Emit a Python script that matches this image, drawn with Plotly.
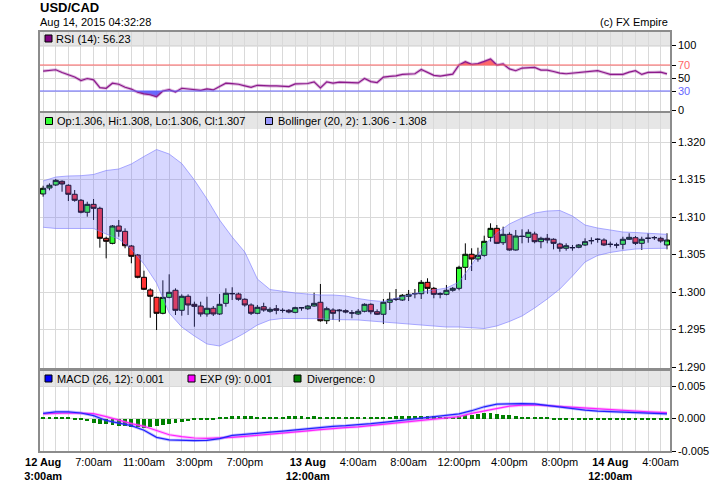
import numpy as np
import pandas as pd
import plotly.graph_objects as go

# ------------------------------------------------------------------ data
start = "2015-08-12 03:00"
n_candles = 100

opens = [1.31307, 1.31387, 1.31427, 1.31476, 1.31423, 1.31303, 1.31223, 1.31063, 1.31169, 1.31116,
         1.30716, 1.30649, 1.30880, 1.30809, 1.30613, 1.30493, 1.30196, 1.30027, 1.29929, 1.29716,
         1.29929, 1.30023, 1.29756, 1.29943, 1.29836, 1.29813, 1.29707, 1.29783, 1.29707, 1.29849,
         1.29980, 1.29973, 1.29903, 1.29827, 1.29716, 1.29804, 1.29743, 1.29777, 1.29756, 1.29756,
         1.29729, 1.29791, 1.29777, 1.29813, 1.29863, 1.29617, 1.29760, 1.29760, 1.29751, 1.29722,
         1.29707, 1.29743, 1.29836, 1.29737, 1.29703, 1.29863, 1.29903, 1.29893, 1.29943, 1.29976,
         1.29977, 1.30129, 1.30049, 1.29969, 1.29969, 1.30023, 1.30049, 1.30329, 1.30503, 1.30440,
         1.30489, 1.30729, 1.30849, 1.30657, 1.30769, 1.30560, 1.30745, 1.30729, 1.30773, 1.30671,
         1.30716, 1.30703, 1.30640, 1.30583, 1.30590, 1.30596, 1.30627, 1.30683, 1.30701, 1.30693,
         1.30637, 1.30627, 1.30636, 1.30703, 1.30724, 1.30649, 1.30716, 1.30724, 1.30716, 1.30627]

highs = [1.31417, 1.31449, 1.31507, 1.31489, 1.31436, 1.31360, 1.31240, 1.31204, 1.31240, 1.31137,
         1.30737, 1.30893, 1.30960, 1.30849, 1.30627, 1.30507, 1.30284, 1.30049, 1.29937, 1.30156,
         1.30236, 1.30049, 1.29969, 1.29969, 1.29871, 1.29871, 1.29937, 1.29813, 1.29973, 1.30049,
         1.30063, 1.29991, 1.29916, 1.29849, 1.29827, 1.29857, 1.29796, 1.29827, 1.29783, 1.29773,
         1.29804, 1.29796, 1.29827, 1.29991, 1.30107, 1.29804, 1.29783, 1.29773, 1.29769, 1.29760,
         1.29773, 1.29849, 1.29849, 1.29769, 1.29907, 1.29996, 1.30040, 1.29973, 1.30027, 1.30040,
         1.30160, 1.30183, 1.30067, 1.29996, 1.30093, 1.30067, 1.30350, 1.30649, 1.30583, 1.30591,
         1.30751, 1.30916, 1.30893, 1.30871, 1.30796, 1.30827, 1.30836, 1.30836, 1.30804, 1.30737,
         1.30773, 1.30716, 1.30657, 1.30649, 1.30627, 1.30640, 1.30716, 1.30729, 1.30716, 1.30716,
         1.30671, 1.30657, 1.30737, 1.30783, 1.30747, 1.30737, 1.30783, 1.30747, 1.30737, 1.30783]

lows = [1.31271, 1.31356, 1.31413, 1.31337, 1.31213, 1.31204, 1.31049, 1.31004, 1.30960, 1.30591,
        1.30449, 1.30636, 1.30737, 1.30583, 1.30383, 1.30183, 1.30027, 1.29657, 1.29493, 1.29703,
        1.29916, 1.29693, 1.29684, 1.29693, 1.29537, 1.29671, 1.29671, 1.29680, 1.29693, 1.29804,
        1.29893, 1.29884, 1.29804, 1.29693, 1.29703, 1.29737, 1.29724, 1.29703, 1.29724, 1.29716,
        1.29716, 1.29751, 1.29760, 1.29804, 1.29604, 1.29573, 1.29627, 1.29604, 1.29716, 1.29650,
        1.29693, 1.29729, 1.29703, 1.29693, 1.29573, 1.29760, 1.29880, 1.29880, 1.29880, 1.29916,
        1.29907, 1.29977, 1.29916, 1.29916, 1.29956, 1.30004, 1.30023, 1.30160, 1.30280, 1.30404,
        1.30471, 1.30671, 1.30640, 1.30627, 1.30551, 1.30551, 1.30649, 1.30657, 1.30649, 1.30583,
        1.30649, 1.30569, 1.30537, 1.30551, 1.30551, 1.30583, 1.30613, 1.30636, 1.30657, 1.30613,
        1.30596, 1.30583, 1.30569, 1.30693, 1.30627, 1.30560, 1.30657, 1.30693, 1.30657, 1.30569]

closes = [1.31383, 1.31423, 1.31489, 1.31440, 1.31303, 1.31223, 1.31063, 1.31169, 1.31116, 1.30716,
          1.30676, 1.30880, 1.30809, 1.30617, 1.30476, 1.30196, 1.30036, 1.29943, 1.29716, 1.29929,
          1.29996, 1.29756, 1.29943, 1.29827, 1.29809, 1.29707, 1.29783, 1.29707, 1.29836, 1.29983,
          1.29977, 1.29903, 1.29827, 1.29716, 1.29796, 1.29760, 1.29769, 1.29756, 1.29754, 1.29733,
          1.29791, 1.29789, 1.29813, 1.29849, 1.29617, 1.29777, 1.29716, 1.29751, 1.29733, 1.29720,
          1.29743, 1.29836, 1.29737, 1.29703, 1.29863, 1.29903, 1.29905, 1.29956, 1.29969, 1.29978,
          1.30129, 1.30049, 1.29969, 1.29977, 1.30023, 1.30049, 1.30329, 1.30503, 1.30440, 1.30489,
          1.30676, 1.30849, 1.30649, 1.30769, 1.30560, 1.30747, 1.30740, 1.30796, 1.30671, 1.30716,
          1.30693, 1.30649, 1.30583, 1.30617, 1.30592, 1.30627, 1.30671, 1.30685, 1.30703, 1.30627,
          1.30635, 1.30626, 1.30703, 1.30729, 1.30649, 1.30703, 1.30717, 1.30725, 1.30680, 1.30693]

# Bollinger (20, 2) bands, read hourly (every 2nd candle) plus the last candle
bb_upper = [1.31480, 1.31533, 1.31547, 1.31551, 1.31567, 1.31620, 1.31640, 1.31707, 1.31807, 1.31900,
            1.31840, 1.31713, 1.31493, 1.31240, 1.30960, 1.30733, 1.30533, 1.30173, 1.30033, 1.30007,
            1.29987, 1.29973, 1.29960, 1.29960, 1.29947, 1.29913, 1.29887, 1.29873, 1.29920, 1.29960,
            1.30000, 1.30027, 1.30053, 1.30133, 1.30360, 1.30627, 1.30787, 1.30907, 1.30987, 1.31053,
            1.31080, 1.31087, 1.31013, 1.30893, 1.30853, 1.30827, 1.30800, 1.30793, 1.30787, 1.30773,
            1.30769]
bb_lower = [1.30863, 1.30847, 1.30847, 1.30847, 1.30847, 1.30773, 1.30707, 1.30573, 1.30373, 1.30120,
            1.29720, 1.29533, 1.29413, 1.29307, 1.29280, 1.29360, 1.29453, 1.29560, 1.29627, 1.29647,
            1.29647, 1.29647, 1.29644, 1.29633, 1.29630, 1.29627, 1.29613, 1.29600, 1.29587, 1.29580,
            1.29560, 1.29547, 1.29533, 1.29533, 1.29527, 1.29513, 1.29547, 1.29607, 1.29680, 1.29787,
            1.29907, 1.30040, 1.30213, 1.30400, 1.30487, 1.30527, 1.30553, 1.30573, 1.30580, 1.30583,
            1.30583]

rsi = [60.6, 61.8, 62.7, 58.5, 54.4, 51.5, 46.0, 49.2, 47.1, 35.2,
       34.2, 42.0, 40.4, 35.8, 33.0, 28.0, 25.5, 24.2, 21.2, 30.0,
       32.1, 28.5, 34.2, 33.3, 32.8, 31.0, 33.1, 31.6, 37.0, 42.0,
       41.2, 40.4, 38.0, 35.7, 38.8, 37.8, 37.8, 37.8, 37.8, 36.8,
       40.9, 40.9, 41.5, 44.0, 34.7, 44.0, 42.0, 43.5, 43.0, 42.0,
       42.5, 49.2, 44.5, 43.0, 51.3, 52.5, 53.4, 55.5, 56.0, 56.5,
       63.2, 58.6, 54.0, 52.9, 54.4, 56.0, 70.0, 75.2, 71.0, 72.1,
       75.5, 79.4, 70.0, 71.6, 64.0, 61.2, 65.3, 65.8, 66.4, 62.2,
       62.2, 60.0, 57.5, 56.5, 57.5, 58.6, 59.5, 60.5, 61.2, 58.5,
       55.5, 55.5, 55.5, 59.0, 61.2, 55.5, 58.6, 58.8, 59.1, 56.23]

# MACD (26, 12) and EXP (9), read hourly plus the last candle
macd = [0.00080, 0.00102, 0.00103, 0.00085, 0.00045, -0.00030, -0.00070, -0.00110, -0.00180, -0.00290,
        -0.00330, -0.00340, -0.00340, -0.00335, -0.00310, -0.00260, -0.00240, -0.00228, -0.00210, -0.00195,
        -0.00175, -0.00150, -0.00132, -0.00120, -0.00110, -0.00100, -0.00080, -0.00060, -0.00040, -0.00020,
        0.00005, 0.00028, 0.00045, 0.00070, 0.00120, 0.00180, 0.00220, 0.00230, 0.00230, 0.00225,
        0.00200, 0.00170, 0.00145, 0.00130, 0.00115, 0.00105, 0.00100, 0.00092, 0.00085, 0.00075,
        0.00070]
exp9 = [0.00070, 0.00078, 0.00085, 0.00082, 0.00074, 0.00030, -0.00030, -0.00080, -0.00120, -0.00190,
        -0.00250, -0.00280, -0.00300, -0.00305, -0.00302, -0.00290, -0.00275, -0.00260, -0.00245, -0.00230,
        -0.00210, -0.00190, -0.00170, -0.00150, -0.00140, -0.00128, -0.00110, -0.00095, -0.00075, -0.00050,
        -0.00030, -0.00010, 0.00010, 0.00030, 0.00080, 0.00120, 0.00160, 0.00190, 0.00205, 0.00210,
        0.00198, 0.00185, 0.00170, 0.00158, 0.00145, 0.00133, 0.00122, 0.00110, 0.00102, 0.00093,
        0.00090]

divergence = [0.0003, 0.0003, 0.0003, 0.0002, 0.0002, -0.0002, -0.0003, -0.0004, -0.0007, -0.0009,
              -0.0009, -0.0010, -0.0011, -0.0012, -0.0013, -0.0013, -0.0014, -0.0013, -0.0012, -0.0010,
              -0.0008, -0.0007, -0.0005, -0.0004, -0.0003, -0.0003, -0.0002, -0.0002, 0.0002, 0.0003,
              0.0004, 0.0004, 0.0004, 0.0004, 0.0003, 0.0003, 0.0003, 0.0003, 0.0003, 0.0004,
              0.0004, 0.0004, 0.0003, 0.0004, 0.0003, 0.0003, 0.0003, 0.0003, 0.0003, 0.0003,
              0.0003, 0.0003, 0.0003, 0.0003, 0.0003, 0.0003, 0.0004, 0.0004, 0.0004, 0.0004,
              0.0004, 0.0004, 0.0004, 0.0003, 0.0003, 0.0003, 0.0004, 0.0005, 0.0006, 0.0007,
              0.0008, 0.0008, 0.0007, 0.0006, 0.0006, 0.0004, 0.0003, 0.0003, 0.0002, 0.0002,
              0.0002, -0.0002, -0.0003, -0.0003, -0.0003, -0.0003, -0.0003, -0.0003, -0.0003, -0.0003,
              -0.0003, -0.0003, -0.0002, -0.0002, -0.0002, -0.0002, -0.0002, -0.0002, -0.0002, -0.0002]

tick_times = ["2015-08-12 03:00", "2015-08-12 07:00", "2015-08-12 11:00", "2015-08-12 15:00",
              "2015-08-12 19:00", "2015-08-13 00:00", "2015-08-13 04:00", "2015-08-13 08:00",
              "2015-08-13 12:00", "2015-08-13 16:00", "2015-08-13 20:00", "2015-08-14 00:00",
              "2015-08-14 04:00"]
tick_text = ["<b>12 Aug</b><br><b>3:00am</b>", "7:00am", "11:00am", "3:00pm", "7:00pm",
             "<b>13 Aug</b><br><b>12:00am</b>", "4:00am", "8:00am", "12:00pm", "4:00pm", "8:00pm",
             "<b>14 Aug</b><br><b>12:00am</b>", "4:00am"]

rsi_ticks = [0, 30, 50, 70, 100]
price_ticks = [1.290, 1.295, 1.300, 1.305, 1.310, 1.315, 1.320]
macd_ticks = [-0.005, 0.0, 0.005]
macd_tick_text = ["-0.005", "0.000", "0.005"]

# ------------------------------------------------------------------ derived
step = pd.Timedelta(minutes=30)
times = pd.date_range(start, periods=n_candles, freq="30min")
hourly = list(times[::2]) + [times[-1]]

W, H = 710, 487
ML, MR, MT, MB = 40, 40, 32, 36
PW, PH = W - ML - MR, H - MT - MB


def PX(x):
    return (x - ML) / PW


def PY(y):
    return (H - MB - y) / PH


FONT = "Liberation Sans, Arial, sans-serif"
GRID = "#d9d9d9"
BORDER = "#8c8c8c"
RED_L = "#ff6666"
BLUE_L = "#6666ff"

fig = go.Figure()

# ---- RSI panel (x / y)
rsi_arr = np.array(rsi, dtype=float)


def beyond(level, above):
    xs, ys = [], []
    for i in range(len(rsi_arr)):
        xs.append(float(i))
        ys.append(rsi_arr[i])
        if i < len(rsi_arr) - 1:
            a, b = rsi_arr[i] - level, rsi_arr[i + 1] - level
            if a * b < 0:
                f = a / (a - b)
                xs.append(i + f)
                ys.append(level)
    ys = np.array(ys)
    ys = np.maximum(ys, level) if above else np.minimum(ys, level)
    xt = [times[0] + step * x for x in xs]
    return xt, ys


for level, above, col in [(30, False, "rgba(80,80,255,0.85)"), (70, True, "rgba(255,80,80,0.85)")]:
    fig.add_trace(go.Scatter(x=[times[0], times[-1]], y=[level, level], mode="lines",
                             line=dict(width=0), xaxis="x", yaxis="y", hoverinfo="skip"))
    xt, yc = beyond(level, above)
    fig.add_trace(go.Scatter(x=xt, y=yc, mode="lines", line=dict(width=0), fill="tonexty",
                             fillcolor=col, xaxis="x", yaxis="y", hoverinfo="skip"))

fig.add_trace(go.Scatter(x=times, y=rsi, mode="lines", line=dict(color="rgba(170,70,170,0.4)", width=3),
                         xaxis="x", yaxis="y", hoverinfo="skip"))
fig.add_trace(go.Scatter(x=times, y=rsi, mode="lines", line=dict(color="#8b1a8b", width=1.2),
                         xaxis="x", yaxis="y", hoverinfo="skip"))

# ---- Main panel (x2 / y2)
fig.add_trace(go.Scatter(x=hourly, y=bb_upper, mode="lines",
                         line=dict(color="rgba(120,120,255,0.6)", width=1),
                         xaxis="x2", yaxis="y2", hoverinfo="skip"))
fig.add_trace(go.Scatter(x=hourly, y=bb_lower, mode="lines",
                         line=dict(color="rgba(120,120,255,0.6)", width=1),
                         fill="tonexty", fillcolor="rgba(102,102,255,0.26)",
                         xaxis="x2", yaxis="y2", hoverinfo="skip"))
fig.add_trace(go.Candlestick(x=times, open=opens, high=highs, low=lows, close=closes,
                             increasing=dict(line=dict(color="black", width=1), fillcolor="#33ff33"),
                             decreasing=dict(line=dict(color="black", width=1), fillcolor="#ff3333"),
                             whiskerwidth=0, xaxis="x2", yaxis="y2", hoverinfo="skip"))

# ---- MACD panel (x3 / y3)
fig.add_trace(go.Bar(x=times, y=divergence, marker=dict(color="#008000", line=dict(width=0)),
                     width=0.62 * step.total_seconds() * 1000, xaxis="x3", yaxis="y3", hoverinfo="skip"))
fig.add_trace(go.Scatter(x=hourly, y=exp9, mode="lines", line=dict(color="rgba(255,80,255,0.35)", width=3),
                         xaxis="x3", yaxis="y3", hoverinfo="skip"))
fig.add_trace(go.Scatter(x=hourly, y=exp9, mode="lines", line=dict(color="#ff22ff", width=1.2),
                         xaxis="x3", yaxis="y3", hoverinfo="skip"))
fig.add_trace(go.Scatter(x=hourly, y=macd, mode="lines", line=dict(color="rgba(80,80,255,0.35)", width=3),
                         xaxis="x3", yaxis="y3", hoverinfo="skip"))
fig.add_trace(go.Scatter(x=hourly, y=macd, mode="lines", line=dict(color="#2222ff", width=1.2),
                         xaxis="x3", yaxis="y3", hoverinfo="skip"))

# ------------------------------------------------------------------ axes
xrange = [times[0] - step * 0.5, times[-1] + step * 0.48]
tickfont = dict(family=FONT, size=11, color="black")


def xaxis(anchor, labels):
    return dict(anchor=anchor, domain=[0, 1], range=xrange, type="date",
                tickmode="array", tickvals=tick_times, ticktext=tick_text,
                showticklabels=labels, ticks="", tickfont=tickfont, automargin=False,
                showgrid=True, gridcolor=GRID, gridwidth=1,
                minor=dict(dtick=3600000, tick0=start, showgrid=True, gridcolor=GRID, gridwidth=1, ticks=""),
                showline=True, mirror=True, linecolor=BORDER, linewidth=1.5,
                zeroline=False, rangeslider=dict(visible=False), fixedrange=True)


def yaxis(anchor, domain, rng, tickvals, ticktext=None, fmt=None):
    d = dict(anchor=anchor, domain=domain, range=rng, side="right", automargin=False,
             tickmode="array", tickvals=tickvals, ticks="outside", ticklen=4, tickwidth=1,
             tickcolor="black", tickfont=tickfont,
             showgrid=True, gridcolor=GRID, gridwidth=1, zeroline=False,
             showline=True, mirror=True, linecolor=BORDER, linewidth=1.5, fixedrange=True)
    if ticktext is not None:
        d["ticktext"] = ticktext
    if fmt is not None:
        d["tickformat"] = fmt
    return d


rsi_text = ["0", '<span style="color:%s">30</span>' % BLUE_L, "50",
            '<span style="color:%s">70</span>' % RED_L, "100"]

fig.update_layout(
    width=W, height=H,
    margin=dict(l=ML, r=MR, t=MT, b=MB, pad=0, autoexpand=False),
    paper_bgcolor="white", plot_bgcolor="white",
    showlegend=False, boxgap=0.15, boxgroupgap=0.05, bargap=0,
    font=dict(family=FONT, size=11, color="black"),
    xaxis=xaxis("y", False),
    xaxis2=xaxis("y2", False),
    xaxis3=xaxis("y3", True),
    yaxis=yaxis("x", [PY(110.5), 1], [0, (110.5 - MT) / 0.65], rsi_ticks, rsi_text),
    yaxis2=yaxis("x2", [PY(368), PY(113)], [1.32 - (368 - 142) / 7500, 1.32 + (142 - 113) / 7500],
                 price_ticks, fmt=".3f"),
    yaxis3=yaxis("x3", [0, PY(371)], [-0.005, 0.005 + (386 - 371) / 6500], macd_ticks, macd_tick_text),
)
fig.update_layout(xaxis=dict(matches="x3"), xaxis2=dict(matches="x3"))

# ------------------------------------------------------------------ decorations
shapes = []
# header bands
for y0, y1 in [(32, 47), (113, 129), (371, 386)]:
    shapes.append(dict(type="rect", xref="paper", yref="paper", x0=0, x1=1, y0=PY(y1), y1=PY(y0),
                       fillcolor="#e6e6e6", line=dict(width=0), layer="below"))
# RSI 70 / 30 lines
shapes.append(dict(type="line", xref="paper", yref="y", x0=0, x1=1, y0=70, y1=70,
                   line=dict(color=RED_L, width=1.2)))
shapes.append(dict(type="line", xref="paper", yref="y", x0=0, x1=1, y0=30, y1=30,
                   line=dict(color=BLUE_L, width=1.2)))
# legend swatches
for x0, yc, col in [(45, 38.5, "#800080"), (45.5, 121, "#33ff33"), (265.5, 121, "#9999ff"),
                    (45, 378.5, "#0000ff"), (188, 378.5, "#ff00ff"), (294, 378.5, "#008000")]:
    shapes.append(dict(type="rect", xref="paper", yref="paper", x0=PX(x0), x1=PX(x0 + 7),
                       y0=PY(yc + 3.5), y1=PY(yc - 3.5), fillcolor=col,
                       line=dict(color="black", width=1)))
fig.update_layout(shapes=shapes)

ann = []


def text(x, y, s, size=11, anchor="left", bold=False):
    ann.append(dict(xref="paper", yref="paper", x=PX(x), y=PY(y), text=("<b>%s</b>" % s) if bold else s,
                    showarrow=False, xanchor=anchor, yanchor="middle", borderpad=0,
                    font=dict(family=FONT, size=size, color="black")))


text(39, 7.5, "USD/CAD", size=13, bold=True)
text(39, 22, "Aug 14, 2015 04:32:28")
text(669, 22, "(c) FX Empire", anchor="right")
text(55, 38.5, "RSI (14): 56.23")
text(56, 121, "Op:1.306, Hi:1.308, Lo:1.306, Cl:1.307")
text(276.5, 121, "Bollinger (20, 2): 1.306 - 1.308")
text(56, 378.5, "MACD (26, 12): 0.001")
text(198.5, 378.5, "EXP (9): 0.001")
text(305.5, 378.5, "Divergence: 0")
fig.update_layout(annotations=ann)

fig.write_html("out.html", config={"displayModeBar": False},
               post_script="document.body.style.margin='0px';document.body.style.overflow='hidden';")
